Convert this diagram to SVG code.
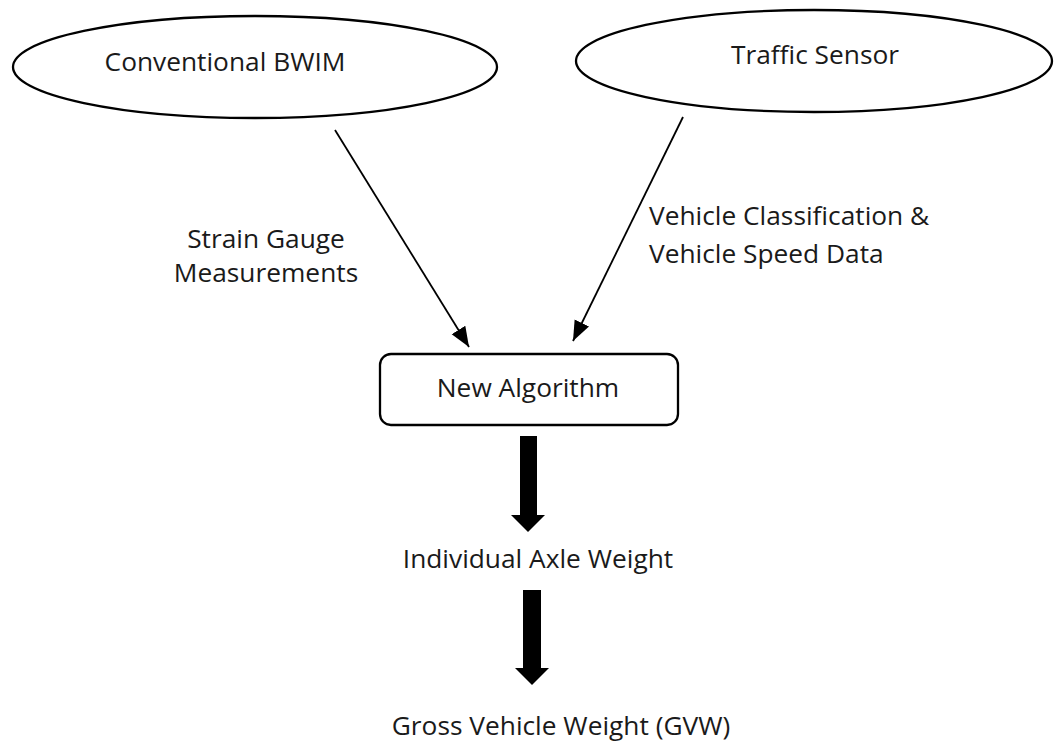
<svg xmlns="http://www.w3.org/2000/svg" width="1057" height="742" viewBox="0 0 1057 742">
<style>
text{font-family:"Open Sans","Liberation Sans",sans-serif;font-size:26.3px;fill:#1a1a1a}
.shape{fill:#fff;stroke:#000;stroke-width:2.3}
.conn{stroke:#000;stroke-width:1.8;fill:none}
.block{fill:#000}
</style>
<defs>
<marker id="ah2" viewBox="0 0 20 20" refX="20" refY="10" markerWidth="20" markerHeight="20" markerUnits="userSpaceOnUse" orient="auto"><path d="M0,2L20,10L0,18z" fill="#000"/></marker>
</defs>
<rect width="1057" height="742" fill="#fff"/>
<g id="bwim">
<ellipse class="shape" cx="255" cy="67" rx="242" ry="51"/>
<text x="225" y="71" text-anchor="middle">Conventional BWIM</text>
</g>
<g id="sensor">
<ellipse class="shape" cx="814" cy="61" rx="238" ry="51"/>
<text x="815" y="64" text-anchor="middle">Traffic Sensor</text>
</g>
<g id="algorithm">
<rect class="shape" x="380" y="354" width="298" height="71" rx="11"/>
<text x="528" y="397" text-anchor="middle">New Algorithm</text>
</g>
<g id="axle">
<text x="538" y="568" text-anchor="middle">Individual Axle Weight</text>
</g>
<g id="gvw">
<text x="561" y="735" text-anchor="middle">Gross Vehicle Weight (GVW)</text>
</g>
<g id="connectors">
<line class="conn" x1="335" y1="130" x2="469" y2="347" marker-end="url(#ah2)"/>
<line class="conn" x1="683" y1="117" x2="573" y2="341" marker-end="url(#ah2)"/>
<path class="block" d="M520,436H537V515H545L528,532L511,515H520Z"/>
<path class="block" d="M523,590H541V668H549L532,685L515,668H523Z"/>
<text x="266" y="248" text-anchor="middle">Strain Gauge</text>
<text x="266" y="282" text-anchor="middle">Measurements</text>
<text x="649" y="225">Vehicle Classification &amp;</text>
<text x="649" y="263">Vehicle Speed Data</text>
</g>
</svg>
